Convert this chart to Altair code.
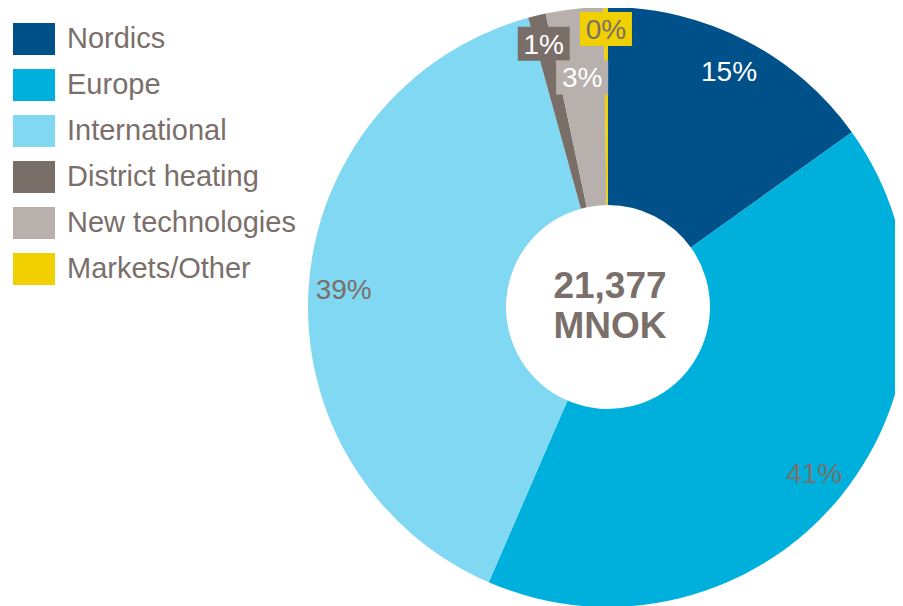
import altair as alt
import pandas as pd

categories = ["Nordics", "Europe", "International", "District heating", "New technologies", "Markets/Other"]
values = [3228, 8850, 8380, 203, 663, 50]  # MNOK
labels = ["15%", "41%", "39%", "1%", "3%", "0%"]
colors = ["#00508a", "#00b0dc", "#80d8f2", "#7a6e69", "#b8b0ac", "#f0d000"]
center_text = "21,377\nMNOK"

GRAY = "#7a6f6a"
FONT = "Liberation Sans"
CX, CY = 600, 299
R_OUT, R_IN = 300, 102

df = pd.DataFrame({"category": categories, "value": values, "label": labels,
                   "idx": list(range(len(categories)))})

base = alt.Chart(df)

arcs = base.mark_arc(outerRadius=R_OUT, innerRadius=R_IN, stroke=None).encode(
    theta=alt.Theta("value:Q", stack=True),
    order=alt.Order("idx:Q"),
    color=alt.Color("category:N",
                    scale=alt.Scale(domain=categories, range=colors),
                    sort=categories,
                    legend=alt.Legend(orient="none", legendX=5, legendY=10, title=None,
                                      symbolType="M-1,-0.762H1V0.762H-1Z",
                                      symbolSize=1764, symbolStrokeWidth=0,
                                      symbolOpacity=1,
                                      labelFontSize=29, labelFont=FONT,
                                      labelColor=GRAY, labelOffset=12,
                                      rowPadding=8, labelLimit=400)),
    x=alt.value(CX), y=alt.value(CY),
)

pos = base.transform_joinaggregate(total="sum(value)").transform_window(
    cum="sum(value)", sort=[alt.SortField("idx")]
).transform_calculate(
    mid="(datum.cum - datum.value/2) / datum.total * 2 * PI",
    r="datum.idx == 3 ? 271 : datum.idx == 4 ? 231 : datum.idx == 5 ? 278 : 265",
).transform_calculate(
    px=f"{CX} + datum.r * sin(datum.mid)",
    py=f"{CY} - datum.r * cos(datum.mid)",
).transform_calculate(
    bx1="datum.px - 26", bx2="datum.px + 26",
    by1="datum.py - 17", by2="datum.py + 17",
)

boxes = pos.transform_filter("datum.idx >= 3").mark_rect().encode(
    x=alt.X("bx1:Q", scale=None), x2="bx2:Q",
    y=alt.Y("by1:Q", scale=None), y2="by2:Q",
    color=alt.Color("category:N", scale=alt.Scale(domain=categories, range=colors), legend=None),
)

texts = pos.mark_text(font=FONT, fontSize=28, baseline="middle", align="center", dy=2).encode(
    x=alt.X("px:Q", scale=None),
    y=alt.Y("py:Q", scale=None),
    text="label:N",
    color=alt.condition("datum.idx == 0 || datum.idx == 3 || datum.idx == 4",
                        alt.value("white"), alt.value(GRAY)),
)

center = alt.Chart(pd.DataFrame({"t": [center_text]})).mark_text(
    font=FONT, fontSize=37, fontWeight="bold", color=GRAY, lineBreak="\n",
    lineHeight=40, baseline="middle", align="center"
).encode(x=alt.value(CX + 2), y=alt.value(CY - 20), text="t:N")

chart = alt.layer(arcs, boxes, texts, center).properties(
    width=887, height=598, autosize=alt.AutoSizeParams(type="none"), padding=0,
).configure_view(strokeWidth=0).resolve_scale(color="independent")

chart.save("out.html", embed_options={"renderer": "svg", "actions": False})
